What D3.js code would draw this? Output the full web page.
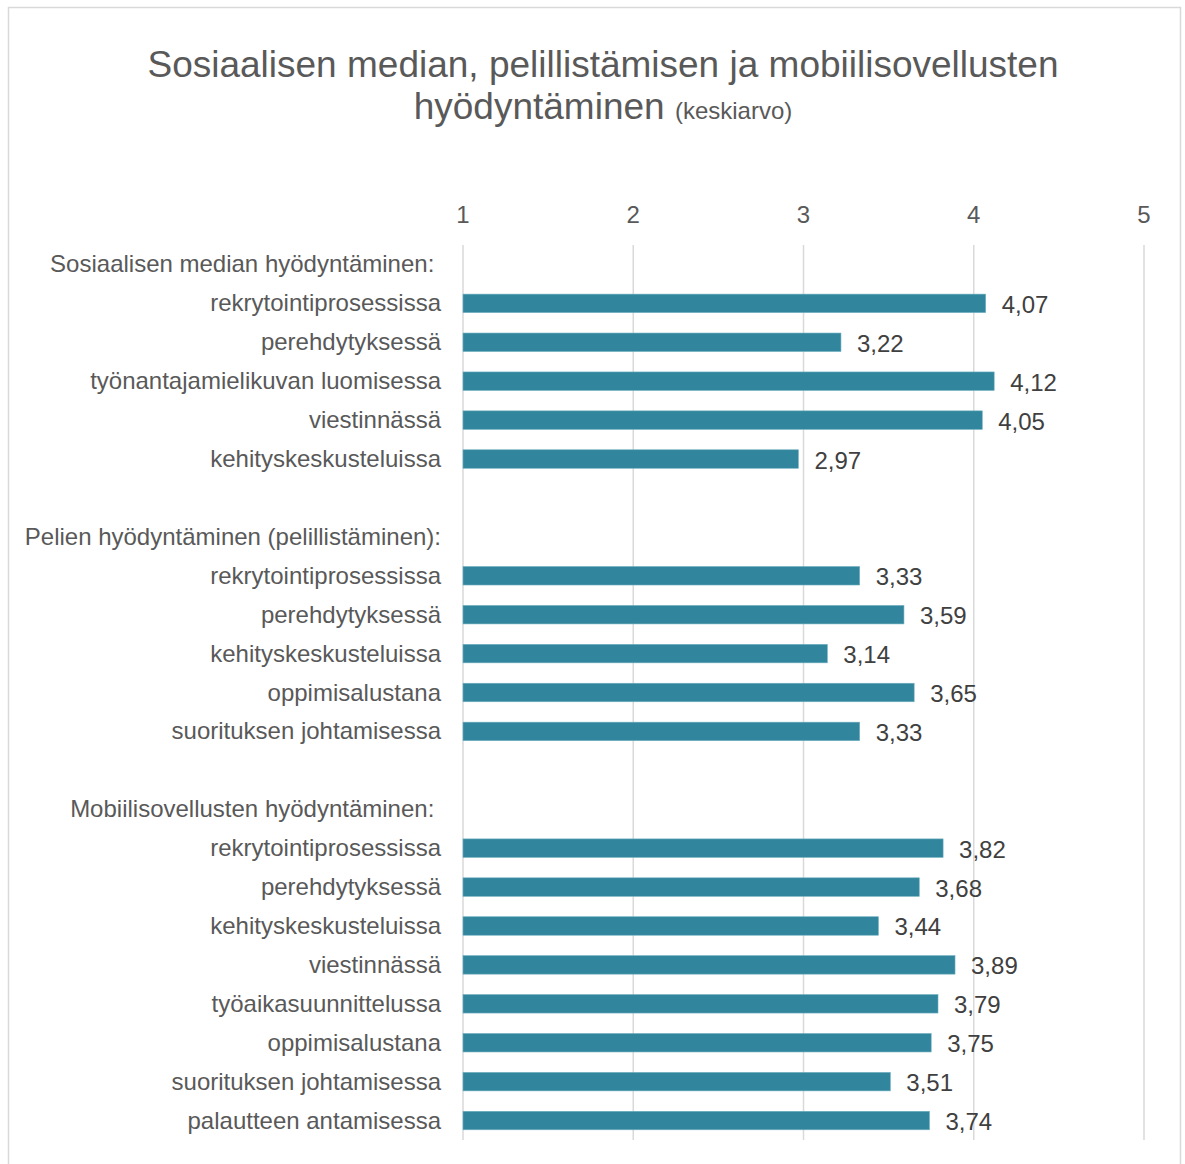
<!DOCTYPE html>
<html>
<head>
<meta charset="utf-8">
<script src="https://cdn.jsdelivr.net/npm/d3@7"></script>
<style>
  body { margin: 0; background: #fff; }
  svg { font-family: "Liberation Sans", Arial, sans-serif; }
</style>
</head>
<body>
<svg id="chart" width="1185" height="1164"></svg>
<script>
// group headers and their items
const groups = [
  'Sosiaalisen median hyödyntäminen: ',
  'Pelien hyödyntäminen (pelillistäminen):',
  'Mobiilisovellusten hyödyntäminen: ',
];
const someItems = ['rekrytointiprosessissa', 'perehdytyksessä', 'työnantajamielikuvan luomisessa', 'viestinnässä', 'kehityskeskusteluissa'];
const someValues = [4.07, 3.22, 4.12, 4.05, 2.97];
const peliItems = ['rekrytointiprosessissa', 'perehdytyksessä', 'kehityskeskusteluissa', 'oppimisalustana', 'suorituksen johtamisessa'];
const peliValues = [3.33, 3.59, 3.14, 3.65, 3.33];
const mobiItems = ['rekrytointiprosessissa', 'perehdytyksessä', 'kehityskeskusteluissa', 'viestinnässä', 'työaikasuunnittelussa', 'oppimisalustana', 'suorituksen johtamisessa', 'palautteen antamisessa'];
const mobiValues = [3.82, 3.68, 3.44, 3.89, 3.79, 3.75, 3.51, 3.74];
const xTicks = [1, 2, 3, 4, 5];

// build row list: header, items, blank spacer between groups
const rows = [];
[[someItems, someValues], [peliItems, peliValues], [mobiItems, mobiValues]].forEach(([items, vals], g) => {
  if (g > 0) rows.push({ id: 'blank' + g, label: '', value: null });
  rows.push({ id: 'head' + g, label: groups[g], value: null });
  items.forEach((it, i) => rows.push({ id: g + '-' + i, label: it, value: vals[i] }));
});

const svg = d3.select('#chart');

// outer frame
svg.append('rect')
  .attr('x', 8.5).attr('y', 7.5)
  .attr('width', 1172).attr('height', 1170)
  .attr('fill', '#fff')
  .attr('stroke', '#d9d9d9')
  .attr('stroke-width', 1.5);

// title
const title = svg.append('text')
  .attr('text-anchor', 'middle')
  .attr('fill', '#595959');
title.append('tspan')
  .attr('x', 603).attr('y', 77)
  .style('font-size', '37px')
  .text('Sosiaalisen median, pelillistämisen ja mobiilisovellusten');
const l2 = title.append('tspan')
  .attr('x', 603).attr('y', 119);
l2.append('tspan').style('font-size', '37px').text('hyödyntäminen ');
l2.append('tspan').style('font-size', '24px').text('(keskiarvo)');

const x = d3.scaleLinear().domain([1, 5]).range([463, 1144]);
const y = d3.scaleBand().domain(rows.map(d => d.id)).range([245, 1140]);

// gridlines
svg.append('g')
  .selectAll('line')
  .data(xTicks)
  .join('line')
  .attr('x1', d => x(d)).attr('x2', d => x(d))
  .attr('y1', 245).attr('y2', 1140)
  .attr('stroke', '#d9d9d9')
  .attr('stroke-width', 1.5);

// top axis labels
svg.append('g')
  .selectAll('text')
  .data(xTicks)
  .join('text')
  .attr('x', d => x(d))
  .attr('y', 223)
  .attr('text-anchor', 'middle')
  .attr('fill', '#595959')
  .style('font-size', '24px')
  .text(d => d);

// category labels
svg.append('g')
  .selectAll('text')
  .data(rows)
  .join('text')
  .attr('x', 441)
  .attr('y', d => y(d.id) + y.bandwidth() / 2 + 8)
  .attr('text-anchor', 'end')
  .attr('fill', '#595959')
  .style('font-size', '24px')
  .style('white-space', 'pre')
  .text(d => d.label);

const barData = rows.filter(d => d.value !== null);
const barH = 18.5;

// bars
svg.append('g')
  .selectAll('rect')
  .data(barData)
  .join('rect')
  .attr('x', x(1))
  .attr('y', d => y(d.id) + y.bandwidth() / 2 - barH / 2)
  .attr('width', d => x(d.value) - x(1))
  .attr('height', barH)
  .attr('fill', '#31859c')
  .attr('stroke', '#6fb0c0')
  .attr('stroke-width', 0.6);

// value labels
svg.append('g')
  .selectAll('text')
  .data(barData)
  .join('text')
  .attr('x', d => x(d.value) + 16)
  .attr('y', d => y(d.id) + y.bandwidth() / 2 + 9.5)
  .attr('fill', '#404040')
  .style('font-size', '24px')
  .text(d => d.value.toFixed(2).replace('.', ','));
</script>
</body>
</html>
